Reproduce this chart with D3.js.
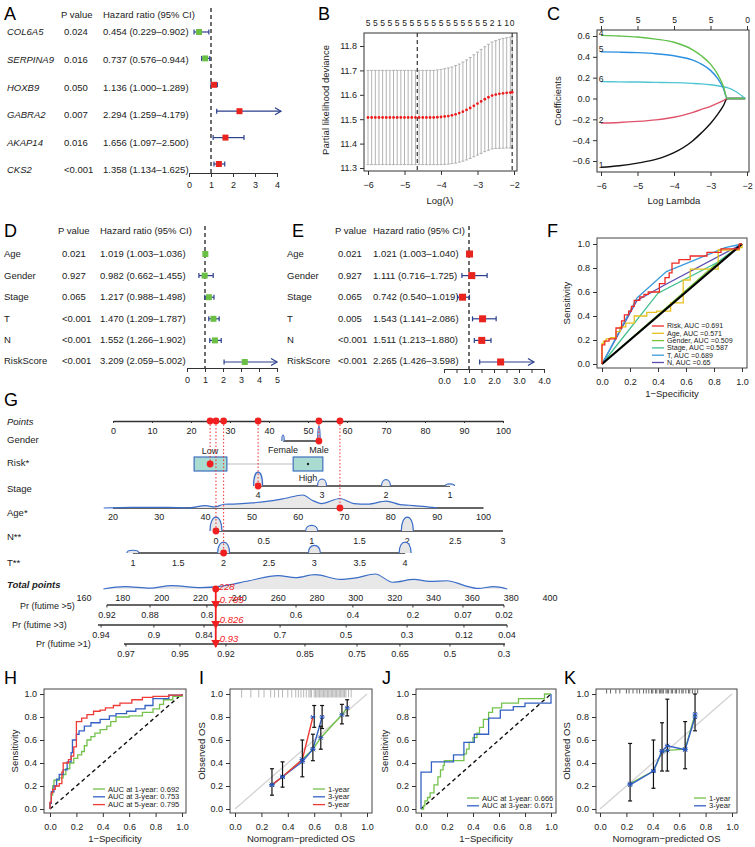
<!DOCTYPE html>
<html>
<head>
<meta charset="utf-8">
<script src="https://cdn.jsdelivr.net/npm/d3@7"></script>
<style>
  body { margin: 0; background: #fff; }
  text { font-family: "Liberation Sans", Arial, sans-serif; }
</style>
</head>
<body>
<svg id="fig" width="755" height="847"></svg>
<script>
// ---------- data ----------
// A: univariate cox of genes
var aGenes = ["COL6A5", "SERPINA9", "HOXB9", "GABRA2", "AKAP14", "CKS2"];
var aP = ["0.024", "0.016", "0.050", "0.007", "0.016", "<0.001"];
var aHR = [0.454, 0.737, 1.136, 2.294, 1.656, 1.358];
var aLo = [0.229, 0.576, 1.000, 1.259, 1.097, 1.134];
var aHi = [0.902, 0.944, 1.289, 4.179, 2.500, 1.625];

// D / E: univariate and multivariate cox of clinical vars
var clinVars = ["Age", "Gender", "Stage", "T", "N", "RiskScore"];
var dP = ["0.021", "0.927", "0.065", "<0.001", "<0.001", "<0.001"];
var dHR = [1.019, 0.982, 1.217, 1.470, 1.552, 3.209];
var dLo = [1.003, 0.662, 0.988, 1.209, 1.266, 2.059];
var dHi = [1.036, 1.455, 1.498, 1.787, 1.902, 5.002];
var eP = ["0.021", "0.927", "0.065", "0.005", "<0.001", "<0.001"];
var eHR = [1.021, 1.111, 0.742, 1.543, 1.511, 2.265];
var eLo = [1.003, 0.716, 0.540, 1.141, 1.213, 1.426];
var eHi = [1.040, 1.725, 1.019, 2.086, 1.880, 3.598];

// B: cross validation
var bLambda = [-6.0, -5.9, -5.8, -5.7, -5.6, -5.5, -5.4, -5.3, -5.2, -5.1, -5.0, -4.9, -4.8, -4.7, -4.6, -4.5, -4.4, -4.3,
  -4.2, -4.1, -4.0, -3.9, -3.8, -3.7, -3.6, -3.5, -3.4, -3.3, -3.2, -3.1, -3.0, -2.9, -2.8, -2.7, -2.6, -2.5, -2.4, -2.3, -2.2, -2.1, -2.05];
var bCvm = [11.507, 11.507, 11.507, 11.507, 11.507, 11.507, 11.507, 11.507, 11.507, 11.507, 11.507, 11.507, 11.507, 11.507, 11.507, 11.507, 11.507, 11.507,
  11.507, 11.508, 11.509, 11.511, 11.513, 11.516, 11.52, 11.525, 11.531, 11.538, 11.546, 11.555, 11.564, 11.573, 11.582, 11.59, 11.597, 11.601, 11.604, 11.606, 11.608, 11.609, 11.61];
var bCvsd = [0.193, 0.193, 0.193, 0.193, 0.193, 0.193, 0.193, 0.193, 0.193, 0.193, 0.193, 0.193, 0.193, 0.193, 0.193, 0.193, 0.193, 0.193,
  0.193, 0.194, 0.195, 0.196, 0.197, 0.198, 0.2, 0.201, 0.203, 0.205, 0.207, 0.209, 0.211, 0.213, 0.215, 0.217, 0.219, 0.221, 0.223, 0.225, 0.226, 0.227, 0.228];
var bNzero = [5, 5, 5, 5, 5, 5, 5, 5, 5, 5, 5, 5, 5, 5, 5, 5, 5, 5, 5, 5, 5, 5, 5, 5, 5, 5, 5, 5, 5, 5, 5, 5, 5, 5, 2, 1, 1, 1, 1, 1, 0];
var bMinLambda = -4.65, b1seLambda = -2.05;

// C: coefficient paths
var cLambda = [-6, -5.5, -5, -4.5, -4, -3.5, -3.25, -3, -2.8, -2.65, -2.54, -2.3, -2.05];
var cPaths = [
  {id: "1", color: "#111111", v: [-0.66, -0.645, -0.62, -0.585, -0.52, -0.41, -0.33, -0.24, -0.15, -0.07, 0, 0, 0]},
  {id: "2", color: "#df536b", v: [-0.235, -0.23, -0.22, -0.205, -0.18, -0.135, -0.105, -0.075, -0.045, -0.02, 0, 0, 0]},
  {id: "6", color: "#4fc6d2", v: [0.162, 0.16, 0.158, 0.155, 0.152, 0.145, 0.14, 0.132, 0.122, 0.112, 0.104, 0.065, 0]},
  {id: "5", color: "#2a8fe0", v: [0.448, 0.445, 0.44, 0.43, 0.41, 0.37, 0.33, 0.27, 0.19, 0.1, 0, 0, 0]},
  {id: "4", color: "#61c04a", v: [0.606, 0.6, 0.59, 0.57, 0.54, 0.47, 0.41, 0.33, 0.23, 0.12, 0, 0, 0]}
];
var cTopLabels = ["5", "5", "5", "5", "0"];

// F: ROC of clinical variables
var fRisk = [[0,0],[0,0.16],[0.02,0.19],[0.05,0.21],[0.1,0.3],[0.14,0.36],[0.16,0.41],[0.19,0.44],[0.21,0.48],[0.23,0.53],[0.27,0.56],[0.3,0.58],[0.33,0.6],[0.41,0.67],[0.45,0.72],[0.48,0.76],[0.5,0.84],[0.55,0.87],[0.63,0.9],[0.75,0.93],[0.85,0.96],[0.98,1],[1,1]];
var fAge = [[0,0],[0,0.17],[0.01,0.19],[0.03,0.21],[0.06,0.22],[0.1,0.27],[0.13,0.31],[0.17,0.34],[0.23,0.4],[0.32,0.43],[0.39,0.44],[0.49,0.51],[0.58,0.7],[0.63,0.79],[0.83,0.95],[0.98,0.97],[1,1]];
var fGender = [[0,0],[0.83,0.85],[1,1]];
var fStage = [[0,0],[0.4,0.59],[0.83,0.85],[1,1]];
var fT = [[0,0],[0.25,0.55],[0.46,0.77],[0.88,0.97],[1,1]];
var fN = [[0,0],[0.25,0.53],[0.45,0.66],[1,1]];
var fLegend = ["Risk, AUC =0.691", "Age, AUC =0.571", "Gender, AUC =0.509", "Stage, AUC =0.587", "T, AUC =0.689", "N, AUC =0.65"];

// G: nomogram
var pointsTicks = [0, 10, 20, 30, 40, 50, 60, 70, 80, 90, 100];
var genderLevels = ["Female", "Male"];
var genderPts = [43.6, 52.8];
var genderFreq = [0.4, 1];
var riskLevels = ["Low", "High"];
var riskBoxLo = [20.8, 46.2], riskBoxHi = [29.2, 53.8], riskMid = [24.9, 50];
var stageTicks = [4, 3, 2, 1];
var stageFreq = [1, 0.5, 0.45, 0.15];
var ageTicks = [20, 30, 40, 50, 60, 70, 80, 90, 100];
var ageDensAge = [18, 24, 32, 36, 40, 42, 44, 46, 50, 54, 57, 61, 63, 65, 69, 72, 75, 79, 82, 84, 87, 90];
var ageDensVal = [0, 0.05, 0.05, 0, 0.18, 0.08, 0.29, 0.3, 0.39, 0.55, 0.73, 1.0, 0.6, 0.34, 0.73, 0.34, 0.3, 0.53, 0.26, 0.21, 0.13, 0];
var nTicks = [0, 0.5, 1, 1.5, 2, 2.5, 3];
var nLevels = [0, 1, 2], nFreq = [1, 0.4, 1];
var tTicks = [1, 1.5, 2, 2.5, 3, 3.5, 4];
var tLevels = [1, 2, 3, 4], tFreq = [0.25, 1, 0.7, 1];
var totalTicks = [160, 180, 200, 220, 240, 260, 280, 300, 320, 340, 360, 380, 400];
var totDensX = [170, 181, 194, 205, 220, 231, 245, 260, 269, 279, 292, 301, 310, 319, 330, 338, 347, 356, 363, 371, 378];
var totDensVal = [0, 0.16, 0.06, 0.23, 0.09, 0.19, 0.55, 0.89, 0.76, 0.96, 0.64, 0.76, 1.0, 0.45, 0.64, 0.51, 0.55, 0.23, 0.04, 0.16, 0];
var pr5Labels = ["0.92", "0.88", "0.8", "0.6", "0.4", "0.2", "0.07", "0.02"];
var pr5At = [171.8, 194, 223.3, 269.2, 298.5, 329.4, 355.2, 376.3];
var pr3Labels = ["0.94", "0.9", "0.84", "0.7", "0.5", "0.3", "0.12", "0.04"];
var pr3At = [168.8, 196, 221.8, 261, 295, 326.4, 355.7, 377.9];
var pr1Labels = ["0.97", "0.95", "0.92", "0.85", "0.75", "0.65", "0.5", "0.3"];
var pr1At = [181.6, 209.4, 233.1, 273.8, 300.6, 322.7, 348.5, 376.3];
var prNames = ["Pr (futime >5)", "Pr (futime >3)", "Pr (futime >1)"];
var prRange = [[171.8, 376.3], [167.2, 377.9], [180.6, 376.8]];
var prPatient = ["0.785", "0.826", "0.93"];
var patient = {gender: "Male", risk: "Low", stage: 4, age: 69, n: 0, t: 2};

// H / J: time-dependent ROC
var hGreen = [[0,0],[0,0.05],[0.01,0.12],[0.02,0.2],[0.03,0.25],[0.07,0.27],[0.1,0.3],[0.12,0.35],[0.15,0.4],[0.18,0.44],[0.21,0.47],[0.24,0.5],[0.26,0.55],[0.28,0.6],[0.31,0.63],[0.34,0.66],[0.38,0.69],[0.43,0.72],[0.46,0.76],[0.5,0.8],[0.6,0.81],[0.7,0.84],[0.78,0.87],[0.83,0.91],[0.86,0.95],[0.93,0.98],[1,1]];
var hBlue = [[0,0],[0,0.05],[0.01,0.15],[0.03,0.2],[0.05,0.26],[0.07,0.3],[0.1,0.34],[0.13,0.41],[0.16,0.49],[0.17,0.6],[0.2,0.65],[0.22,0.68],[0.26,0.72],[0.31,0.75],[0.38,0.78],[0.45,0.81],[0.5,0.83],[0.58,0.85],[0.65,0.87],[0.72,0.9],[0.78,0.96],[0.9,0.99],[1,1]];
var hRed = [[0,0],[0,0.06],[0.01,0.14],[0.02,0.17],[0.04,0.2],[0.07,0.22],[0.09,0.32],[0.1,0.4],[0.14,0.43],[0.16,0.46],[0.18,0.54],[0.2,0.76],[0.24,0.79],[0.28,0.82],[0.33,0.85],[0.38,0.86],[0.42,0.88],[0.48,0.9],[0.53,0.92],[0.62,0.95],[0.7,0.97],[0.78,0.98],[0.9,0.99],[1,1]];
var hLegend = ["AUC at 1-year: 0.692", "AUC at 3-year: 0.753", "AUC at 5-year: 0.795"];
var jGreen = [[0,0],[0.02,0.03],[0.03,0.07],[0.05,0.1],[0.07,0.14],[0.1,0.21],[0.13,0.28],[0.15,0.34],[0.17,0.38],[0.18,0.42],[0.33,0.48],[0.35,0.52],[0.37,0.58],[0.4,0.62],[0.43,0.66],[0.45,0.71],[0.48,0.78],[0.52,0.84],[0.55,0.88],[0.62,0.92],[0.75,0.96],[0.95,1],[1,1]];
var jBlue = [[0,0],[0,0.32],[0.08,0.41],[0.25,0.47],[0.33,0.58],[0.41,0.65],[0.52,0.79],[0.61,0.86],[0.71,0.89],[0.8,0.92],[1,1]];
var jLegend = ["AUC at 1-year: 0.666", "AUC at 3-year: 0.671"];

// I / K: calibration
var iGreen = [[0.28,0.21],[0.36,0.28],[0.51,0.43],[0.59,0.52],[0.65,0.62],[0.81,0.82],[0.85,0.88]];
var iBlue = [[0.28,0.21],[0.36,0.28],[0.51,0.41],[0.59,0.52],[0.66,0.8]];
var iRed = [[0.28,0.21],[0.36,0.28],[0.51,0.43],[0.59,0.8]];
var iErr = [[0.28,0.12,0.35],[0.36,0.19,0.41],[0.51,0.28,0.6],[0.59,0.42,0.65],[0.6,0.71,0.9],[0.66,0.7,0.9],[0.65,0.52,0.72],[0.81,0.74,0.91],[0.85,0.81,0.95]];
var iRug = [0.05, 0.12, 0.18, 0.22, 0.27, 0.3, 0.33, 0.36, 0.4, 0.43, 0.46, 0.48, 0.5, 0.52, 0.54, 0.56, 0.57, 0.58, 0.6, 0.61, 0.62, 0.63, 0.64, 0.65, 0.66, 0.67, 0.68, 0.69, 0.7, 0.71, 0.72, 0.73, 0.74, 0.75, 0.76, 0.77, 0.78, 0.79, 0.8, 0.81, 0.82, 0.83, 0.84, 0.86, 0.88];
var kGreen = [[0.228,0.22],[0.405,0.33],[0.47,0.5],[0.51,0.51],[0.645,0.52],[0.72,0.825]];
var kBlue = [[0.228,0.21],[0.405,0.33],[0.47,0.505],[0.51,0.55],[0.645,0.515],[0.72,0.8]];
var kErr = [[0.228,0.07,0.57],[0.405,0.18,0.6],[0.47,0.33,0.75],[0.51,0.33,0.955],[0.645,0.35,0.76],[0.72,0.68,1.0]];
var kRug = [0.05, 0.08, 0.12, 0.15, 0.2, 0.22, 0.25, 0.28, 0.3, 0.33, 0.35, 0.37, 0.39, 0.4, 0.42, 0.43, 0.45, 0.46, 0.47, 0.48, 0.5, 0.51, 0.52, 0.54, 0.55, 0.57, 0.58, 0.6, 0.62, 0.63, 0.65, 0.67, 0.68, 0.7, 0.72, 0.74];
var yearLabels = ["1-year", "3-year", "5-year"];

// ---------- helpers ----------
var FONT = "Liberation Sans, Arial, sans-serif";
var GREEN = "#74c24c", BLUE = "#3560c4", RED = "#ef3b36", NAVY = "#2b3f8c";
var svg = d3.select("#fig");
svg.append("rect").attr("width", 755).attr("height", 847).attr("fill", "#fff");

function label(g, x, y, s, size, anchor, st) {
  st = st || {};
  return g.append("text").attr("x", x).attr("y", y).attr("dy", "0.35em")
    .attr("font-size", size || 9).attr("text-anchor", anchor || "start")
    .attr("font-style", st.italic ? "italic" : null)
    .attr("font-weight", st.bold ? "bold" : null)
    .attr("fill", st.fill || "#222").text(s);
}
function styleAxis(sel, size) {
  sel.attr("font-family", FONT).attr("font-size", size || 9);
  sel.selectAll("text").attr("fill", "#222");
  sel.selectAll("line").attr("stroke", "#333");
  sel.select(".domain").attr("stroke", "#333");
}
function letter(x, y, s) {
  label(svg, x, y, s, 18, "start", {fill: "#000"});
}

// ---------- forest plots ----------
function forest(o) {
  var g = svg.append("g");
  var x = d3.scaleLinear().domain(o.domain).range(o.range);
  var f3 = d3.format(".3f");
  label(g, o.pHeadX, o.headY, "P value", 9.5);
  label(g, o.hrX, o.headY, "Hazard ratio (95% CI)", 9.5);
  g.append("line").attr("x1", x(1)).attr("x2", x(1)).attr("y1", o.dashTop).attr("y2", o.axisY)
    .attr("stroke", "#222").attr("stroke-width", 1.3).attr("stroke-dasharray", "4,3");
  o.names.forEach(function (nm, i) {
    var ty = o.y0 + i * o.step, my = o.y0 + i * o.mstep;
    label(g, o.nameX, ty, nm, 9.5, "start", {italic: o.italic});
    label(g, o.pX, ty, o.p[i], 9.5);
    label(g, o.hrX, ty, f3(o.hr[i]) + " (" + f3(o.lo[i]) + "–" + f3(o.hi[i]) + ")", 9.5);
    var x0 = x(o.lo[i]), x1 = x(o.hi[i]);
    var arrow = o.hi[i] > o.clip;
    g.append("line").attr("x1", x0).attr("x2", x1).attr("y1", my).attr("y2", my)
      .attr("stroke", NAVY).attr("stroke-width", 1.2);
    g.append("line").attr("x1", x0).attr("x2", x0).attr("y1", my - 2.5).attr("y2", my + 2.5)
      .attr("stroke", NAVY).attr("stroke-width", 1.2);
    if (arrow) {
      g.append("path").attr("d", "M" + (x1 - 6) + "," + (my - 3.5) + "L" + x1 + "," + my + "L" + (x1 - 6) + "," + (my + 3.5))
        .attr("fill", "none").attr("stroke", NAVY).attr("stroke-width", 1.2);
    } else {
      g.append("line").attr("x1", x1).attr("x2", x1).attr("y1", my - 2.5).attr("y2", my + 2.5)
        .attr("stroke", NAVY).attr("stroke-width", 1.2);
    }
    var s = o.box;
    g.append("rect").attr("x", x(o.hr[i]) - s / 2).attr("y", my - s / 2).attr("width", s).attr("height", s)
      .attr("fill", o.color(o.hr[i]));
  });
  var ax = g.append("g").attr("transform", "translate(0," + o.axisY + ")")
    .call(d3.axisBottom(x).tickValues(o.ticks).tickSize(4).tickSizeOuter(0).tickFormat(o.fmt));
  styleAxis(ax, 9);
  ax.selectAll("text").attr("dy", "0.9em");
}

letter(4, 14, "A");
forest({names: aGenes, p: aP, hr: aHR, lo: aLo, hi: aHi, italic: true,
  nameX: 7, pX: 64, pHeadX: 61, hrX: 103, headY: 15, y0: 32, step: 27.6, mstep: 26.4,
  domain: [0, 4], range: [189, 277], clip: 3.4, dashTop: 8, axisY: 173, box: 6,
  ticks: [0, 1, 2, 3, 4], fmt: d3.format("d"),
  color: function (v) { return v < 1 ? "#6cbf45" : "#e8241f"; }});

letter(4, 231, "D");
forest({names: clinVars, p: dP, hr: dHR, lo: dLo, hi: dHi, italic: false,
  nameX: 4, pX: 62, pHeadX: 58, hrX: 100, headY: 231, y0: 254, step: 21.4, mstep: 21.6,
  domain: [0, 5], range: [187, 277], clip: 4.25, dashTop: 226, axisY: 368, box: 6,
  ticks: [0, 1, 2, 3, 4, 5], fmt: d3.format("d"),
  color: function () { return "#6cbf45"; }});

letter(292, 231, "E");
forest({names: clinVars, p: eP, hr: eHR, lo: eLo, hi: eHi, italic: false,
  nameX: 287, pX: 338, pHeadX: 335, hrX: 373, headY: 231, y0: 254, step: 21.4, mstep: 21.6,
  domain: [0, 4], range: [444, 544], clip: 3.4, dashTop: 226, axisY: 369, box: 7,
  ticks: [0, 0.5, 1, 1.5, 2, 2.5, 3, 3.5, 4],
  fmt: function (d) { return d % 1 === 0 ? d3.format(".1f")(d) : ""; },
  color: function () { return "#e8241f"; }});

// ---------- B: cv deviance ----------
(function () {
  var g = svg.append("g");
  var x = d3.scaleLinear().domain([-6, -2]).range([368, 514]);
  var y = d3.scaleLinear().domain([11.3, 11.8]).range([168, 46]);
  letter(318, 14, "B");
  bLambda.forEach(function (l, i) {
    var lo = y(bCvm[i] - bCvsd[i]), hi = y(bCvm[i] + bCvsd[i]), cx = x(l);
    g.append("line").attr("x1", cx).attr("x2", cx).attr("y1", lo).attr("y2", hi).attr("stroke", "#aaa").attr("stroke-width", 0.9);
    g.append("line").attr("x1", cx - 1.5).attr("x2", cx + 1.5).attr("y1", lo).attr("y2", lo).attr("stroke", "#aaa").attr("stroke-width", 0.9);
    g.append("line").attr("x1", cx - 1.5).attr("x2", cx + 1.5).attr("y1", hi).attr("y2", hi).attr("stroke", "#aaa").attr("stroke-width", 0.9);
  });
  [bMinLambda, b1seLambda].forEach(function (l) {
    g.append("line").attr("x1", x(l)).attr("x2", x(l)).attr("y1", 33).attr("y2", 171)
      .attr("stroke", "#333").attr("stroke-width", 1.2).attr("stroke-dasharray", "4,3");
  });
  g.selectAll("circle.cvm").data(bLambda).enter().append("circle")
    .attr("cx", function (d) { return x(d); }).attr("cy", function (d, i) { return y(bCvm[i]); })
    .attr("r", 1.4).attr("fill", "#ee1c1c");
  g.append("rect").attr("x", 364).attr("y", 33).attr("width", 153).attr("height", 138)
    .attr("fill", "none").attr("stroke", "#333");
  var ay = g.append("g").attr("transform", "translate(364,0)")
    .call(d3.axisLeft(y).tickValues([11.3, 11.4, 11.5, 11.6, 11.7, 11.8]).tickFormat(d3.format(".1f")).tickSize(4).tickSizeOuter(0));
  styleAxis(ay, 9); ay.select(".domain").remove();
  var ax = g.append("g").attr("transform", "translate(0,171)")
    .call(d3.axisBottom(x).tickValues([-6, -5, -4, -3, -2]).tickFormat(d3.format("d")).tickSize(4).tickSizeOuter(0));
  styleAxis(ax, 9); ax.select(".domain").remove(); ax.selectAll("text").attr("dy", "1.1em");
  var last = -99;
  bLambda.forEach(function (l, i) {
    if (x(l) - last >= 5.3) { label(g, x(l), 23, String(bNzero[i]), 8.5, "middle"); last = x(l); }
  });
  label(g, 326, 100, "Partial likelihood deviance", 9.5, "middle").attr("transform", "rotate(-90,326,100)");
  label(g, 440, 201, "Log(λ)", 9.5, "middle");
})();

// ---------- C: coefficient paths ----------
(function () {
  var g = svg.append("g");
  var x = d3.scaleLinear().domain([-6, -2]).range([601, 747]);
  var y = d3.scaleLinear().domain([-0.6, 0.6]).range([161, 36]);
  letter(547, 14, "C");
  var line = d3.line().x(function (d, i) { return x(cLambda[i]); }).y(function (d) { return y(d); }).curve(d3.curveMonotoneX);
  cPaths.forEach(function (p) {
    g.append("path").attr("d", line(p.v)).attr("fill", "none").attr("stroke", p.color).attr("stroke-width", 1.4);
    label(g, x(-6), y(p.v[0]) - 2.5, p.id, 8.5, "middle");
  });
  g.append("rect").attr("x", 597).attr("y", 30).attr("width", 152).attr("height", 142)
    .attr("fill", "none").attr("stroke", "#333");
  var ay = g.append("g").attr("transform", "translate(597,0)")
    .call(d3.axisLeft(y).tickValues([-0.6, -0.4, -0.2, 0, 0.2, 0.4, 0.6]).tickFormat(d3.format(".1f")).tickSize(4).tickSizeOuter(0));
  styleAxis(ay, 9); ay.select(".domain").remove();
  var ax = g.append("g").attr("transform", "translate(0,172)")
    .call(d3.axisBottom(x).tickValues([-6, -5, -4, -3, -2]).tickFormat(d3.format("d")).tickSize(4).tickSizeOuter(0));
  styleAxis(ax, 9); ax.select(".domain").remove(); ax.selectAll("text").attr("dy", "1.1em");
  var at = g.append("g").attr("transform", "translate(0,30)")
    .call(d3.axisTop(x).tickValues([-6, -5, -4, -3, -2]).tickFormat(function (d, i) { return cTopLabels[i]; }).tickSize(4).tickSizeOuter(0));
  styleAxis(at, 8.5); at.select(".domain").remove();
  label(g, 558, 101, "Coefficients", 9.5, "middle").attr("transform", "rotate(-90,558,101)");
  label(g, 674, 201, "Log Lambda", 9.5, "middle");
})();

// ---------- frame for square plots ----------
function frame(o) {
  var g = svg.append("g");
  var x = d3.scaleLinear().domain([0, 1]).range(o.xr);
  var y = d3.scaleLinear().domain([0, 1]).range(o.yr);
  g.append("rect").attr("x", o.box[0]).attr("y", o.box[1]).attr("width", o.box[2] - o.box[0]).attr("height", o.box[3] - o.box[1])
    .attr("fill", "none").attr("stroke", "#444");
  var t = [0, 0.2, 0.4, 0.6, 0.8, 1];
  var ay = g.append("g").attr("transform", "translate(" + o.box[0] + ",0)")
    .call(d3.axisLeft(y).tickValues(t).tickFormat(d3.format(".1f")).tickSize(4).tickSizeOuter(0));
  styleAxis(ay, 9); ay.select(".domain").remove();
  var ax = g.append("g").attr("transform", "translate(0," + o.box[3] + ")")
    .call(d3.axisBottom(x).tickValues(t).tickFormat(d3.format(".1f")).tickSize(4).tickSizeOuter(0));
  styleAxis(ax, 9); ax.select(".domain").remove(); ax.selectAll("text").attr("dy", "1.1em");
  var cx = (o.box[0] + o.box[2]) / 2, cy = (o.box[1] + o.box[3]) / 2;
  label(g, cx, o.box[3] + 26, o.xlab, 9.5, "middle");
  label(g, o.ylabX, cy, o.ylab, 9.5, "middle").attr("transform", "rotate(-90," + o.ylabX + "," + cy + ")");
  return {g: g, x: x, y: y};
}
function addLine(p, data, color, curve, w) {
  var ln = d3.line().x(function (d) { return p.x(d[0]); }).y(function (d) { return p.y(d[1]); }).curve(curve || d3.curveLinear);
  p.g.append("path").attr("d", ln(data)).attr("fill", "none").attr("stroke", color).attr("stroke-width", w || 1.3);
}
function legend(g, x, y0, step, labels, colors, size) {
  labels.forEach(function (s, i) {
    var yy = y0 + i * step;
    g.append("line").attr("x1", x).attr("x2", x + 12).attr("y1", yy).attr("y2", yy).attr("stroke", colors[i]).attr("stroke-width", 1.3);
    label(g, x + 15, yy, s, size || 7.5);
  });
}

// ---------- F ----------
letter(547, 231, "F");
(function () {
  var p = frame({xr: [602, 742], yr: [364, 244], box: [597, 238, 747, 368], xlab: "1−Specificity", ylab: "Sensitivity", ylabX: 567});
  var cols = ["#ee2a24", "#e6c11e", "#77c43a", "#3fbf8c", "#3a9bdc", "#5a4db0"];
  addLine(p, fGender, cols[2]);
  addLine(p, fStage, cols[3]);
  addLine(p, fN, cols[5]);
  addLine(p, fT, cols[4]);
  addLine(p, fAge, cols[1], d3.curveStepAfter);
  p.g.append("line").attr("x1", p.x(0)).attr("y1", p.y(0)).attr("x2", p.x(1)).attr("y2", p.y(1)).attr("stroke", "#000").attr("stroke-width", 2.2);
  addLine(p, fRisk, cols[0], d3.curveStepAfter);
  legend(p.g, 652, 326, 7.3, fLegend, cols, 7.1);
})();

// ---------- G: nomogram ----------
letter(4, 400, "G");
(function () {
  var g = svg.append("g");
  var px = d3.scaleLinear().domain([0, 100]).range([113, 503]);
  var totalX = d3.scaleLinear().domain([160, 400]).range([84, 550]);
  var ageToPts = d3.scaleLinear().domain([20, 100]).range([0, 95]);
  var stageToPts = d3.scaleLinear().domain([4, 1]).range([37.2, 86.4]);
  var nToPts = d3.scaleLinear().domain([0, 3]).range([26.4, 100]);
  var tToPts = d3.scaleLinear().domain([1, 4]).range([5.1, 74.9]);
  var Y = {points: 421, gender: 441, risk: 464, stage: 486, age: 508, n: 531, t: 553, total: 589, pr: [605, 625, 644]};
  var HUMP = "#3a6cc8";

  function hump(cx, base, h, w) {
    g.append("path").attr("d", "M" + (cx - w) + "," + base + "C" + (cx - w) + "," + (base - h * 1.33) + " " + (cx + w) + "," + (base - h * 1.33) + " " + (cx + w) + "," + base)
      .attr("fill", "#e6e6e6").attr("stroke", HUMP).attr("stroke-width", 1.2);
  }
  function hline(x1, x2, yy) {
    g.append("line").attr("x1", x1).attr("x2", x2).attr("y1", yy).attr("y2", yy).attr("stroke", "#333").attr("stroke-width", 1.3);
  }
  function density(xs, vals, toX, base, hmax) {
    var hy = d3.scaleLinear().domain([0, 1]).range([0, hmax]);
    var area = d3.area().x(function (d, i) { return toX(xs[i]); }).y0(base).y1(function (d) { return base - hy(d); }).curve(d3.curveMonotoneX);
    var ln = d3.line().x(function (d, i) { return toX(xs[i]); }).y(function (d) { return base - hy(d); }).curve(d3.curveMonotoneX);
    g.append("path").attr("d", area(vals)).attr("fill", "#e8e8e8");
    g.append("path").attr("d", ln(vals)).attr("fill", "none").attr("stroke", HUMP).attr("stroke-width", 1.2);
  }

  // row labels
  label(g, 7, 422, "Points", 9.5, "start", {italic: true});
  label(g, 7, 440, "Gender", 9.5);
  label(g, 7, 463, "Risk*", 9.5);
  label(g, 7, 489, "Stage", 9.5);
  label(g, 7, 513, "Age*", 9.5);
  label(g, 7, 537, "N**", 9.5);
  label(g, 7, 563, "T**", 9.5);
  label(g, 7, 585, "Total points", 9.5, "start", {italic: true, bold: true});
  label(g, 20, 606, prNames[0], 9);
  label(g, 12, 625, prNames[1], 9);
  label(g, 36, 644, prNames[2], 9);

  // points axis
  var ap = g.append("g").attr("transform", "translate(0," + Y.points + ")")
    .call(d3.axisBottom(px).tickValues(pointsTicks).tickSize(2).tickSizeOuter(0));
  styleAxis(ap, 9); ap.select(".domain").attr("stroke-width", 1.3); ap.selectAll("text").attr("dy", "0.9em");

  // gender
  hline(px(genderPts[0]), px(genderPts[1]), Y.gender);
  genderLevels.forEach(function (lv, i) {
    hump(px(genderPts[i]), Y.gender, 15 * genderFreq[i], 1.2);
    label(g, px(genderPts[i]), 450, lv, 9, "middle");
  });

  // risk boxes
  g.append("line").attr("x1", px(riskBoxHi[0])).attr("x2", px(riskBoxLo[1])).attr("y1", Y.risk).attr("y2", Y.risk)
    .attr("stroke", "#bbb").attr("stroke-width", 1.2);
  riskLevels.forEach(function (lv, i) {
    g.append("rect").attr("x", px(riskBoxLo[i])).attr("y", Y.risk - 7).attr("width", px(riskBoxHi[i]) - px(riskBoxLo[i])).attr("height", 14)
      .attr("fill", "#a9dbd0").attr("stroke", "#3f6fc0").attr("stroke-width", 1.2);
    g.append("circle").attr("cx", px(riskMid[i])).attr("cy", Y.risk).attr("r", 1.2).attr("fill", "#222");
  });
  label(g, px(riskMid[0]), 451, riskLevels[0], 9, "middle");
  label(g, px(riskMid[1]), 478, riskLevels[1], 9, "middle");

  // stage
  hline(px(stageToPts(4)), px(stageToPts(1)), Y.stage);
  stageTicks.forEach(function (s, i) {
    hump(px(stageToPts(s)), Y.stage, 14 * stageFreq[i], 4.5);
    label(g, px(stageToPts(s)), 495, String(s), 9, "middle");
  });

  // age
  hline(px(ageToPts(20)), px(ageToPts(100)), Y.age);
  density(ageDensAge, ageDensVal, function (a) { return px(ageToPts(a)); }, Y.age, 13);
  ageTicks.forEach(function (a) { label(g, px(ageToPts(a)), 517, String(a), 9, "middle"); });

  // N
  hline(px(nToPts(0)), px(nToPts(3)), Y.n);
  nLevels.forEach(function (v, i) { hump(px(nToPts(v)), Y.n, 14 * nFreq[i], 6); });
  nTicks.forEach(function (v) { label(g, px(nToPts(v)), 541, String(v), 9, "middle"); });

  // T
  hline(px(tToPts(1)), px(tToPts(4)), Y.t);
  tLevels.forEach(function (v, i) { hump(px(tToPts(v)), Y.t, 11 * tFreq[i], 6); });
  tTicks.forEach(function (v) { label(g, px(tToPts(v)), 563, String(v), 9, "middle"); });

  // total points
  density(totDensX, totDensVal, totalX, Y.total, 15);
  totalTicks.forEach(function (v) { label(g, totalX(v), 598, String(v), 9, "middle"); });

  // probability axes
  [[pr5Labels, pr5At], [pr3Labels, pr3At], [pr1Labels, pr1At]].forEach(function (pr, k) {
    var yy = Y.pr[k];
    hline(totalX(prRange[k][0]), totalX(prRange[k][1]), yy);
    pr[1].forEach(function (tp, i) {
      g.append("line").attr("x1", totalX(tp)).attr("x2", totalX(tp)).attr("y1", yy).attr("y2", yy + 2.5).attr("stroke", "#333");
      label(g, totalX(tp), yy + 9.5, pr[0][i], 9, "middle");
    });
  });

  // patient
  var pts = [
    {p: genderPts[genderLevels.indexOf(patient.gender)], y: Y.gender},
    {p: riskMid[riskLevels.indexOf(patient.risk)], y: Y.risk},
    {p: stageToPts(patient.stage), y: Y.stage},
    {p: ageToPts(patient.age), y: Y.age},
    {p: nToPts(patient.n), y: Y.n},
    {p: tToPts(patient.t), y: Y.t}
  ];
  var total = d3.sum(pts, function (d) { return d.p; });
  pts.forEach(function (d) {
    g.append("line").attr("x1", px(d.p)).attr("x2", px(d.p)).attr("y1", Y.points).attr("y2", d.y)
      .attr("stroke", "#f03030").attr("stroke-width", 1).attr("stroke-dasharray", "1.5,2");
  });
  pts.forEach(function (d) {
    g.append("circle").attr("cx", px(d.p)).attr("cy", d.y).attr("r", 3.4).attr("fill", "#f02020");
    g.append("circle").attr("cx", px(d.p)).attr("cy", Y.points).attr("r", 3.4).attr("fill", "#f02020");
  });
  var tx = totalX(total);
  g.append("line").attr("x1", tx).attr("x2", tx).attr("y1", Y.total).attr("y2", Y.pr[2] + 3)
    .attr("stroke", "#f02020").attr("stroke-width", 1.8);
  g.append("circle").attr("cx", tx).attr("cy", Y.total).attr("r", 3.4).attr("fill", "#f02020");
  label(g, tx + 3, Y.total - 2, String(Math.round(total)), 9.5, "start", {italic: true, fill: "#f02020"});
  Y.pr.forEach(function (yy, k) {
    g.append("path").attr("d", "M" + (tx - 4.5) + "," + (yy - 4) + "L" + (tx + 4.5) + "," + (yy - 4) + "L" + tx + "," + (yy + 4) + "Z")
      .attr("fill", "#f02020");
    label(g, tx + 4, yy - 5, prPatient[k], 9.5, "start", {italic: true, fill: "#f02020"});
  });
})();

// ---------- H ----------
letter(4, 678, "H");
(function () {
  var p = frame({xr: [50, 182], yr: [809, 694], box: [44, 689, 186, 813], xlab: "1−Specificity", ylab: "Sensitivity", ylabX: 15});
  p.g.append("line").attr("x1", p.x(0)).attr("y1", p.y(0)).attr("x2", p.x(1)).attr("y2", p.y(1))
    .attr("stroke", "#111").attr("stroke-width", 1.4).attr("stroke-dasharray", "4,3");
  addLine(p, hGreen, GREEN, d3.curveStepAfter);
  addLine(p, hBlue, BLUE, d3.curveStepAfter);
  addLine(p, hRed, RED, d3.curveStepAfter);
  legend(p.g, 93, 789, 7.8, hLegend, [GREEN, BLUE, RED], 7.6);
})();

// ---------- I ----------
letter(199, 678, "I");
function calib(p, lines, colors, err, rug, rugCol, rugLen) {
  p.g.append("line").attr("x1", p.x(0)).attr("y1", p.y(0)).attr("x2", p.x(1)).attr("y2", p.y(1))
    .attr("stroke", "#d3d3d3").attr("stroke-width", 1.3);
  rug.forEach(function (r) {
    p.g.append("line").attr("x1", p.x(r)).attr("x2", p.x(r)).attr("y1", 689.5).attr("y2", 689.5 + rugLen)
      .attr("stroke", rugCol).attr("stroke-width", 0.7);
  });
  lines.forEach(function (l, i) { addLine(p, l, colors[i], d3.curveLinear, 1.4); });
  err.forEach(function (e) {
    var cx = p.x(e[0]), y0 = p.y(e[1]), y1 = p.y(e[2]);
    p.g.append("line").attr("x1", cx).attr("x2", cx).attr("y1", y0).attr("y2", y1).attr("stroke", "#111").attr("stroke-width", 1.2);
    [y0, y1].forEach(function (yy) {
      p.g.append("line").attr("x1", cx - 2).attr("x2", cx + 2).attr("y1", yy).attr("y2", yy).attr("stroke", "#111").attr("stroke-width", 1.2);
    });
  });
  lines.forEach(function (l) {
    l.forEach(function (d) {
      var cx = p.x(d[0]), cy = p.y(d[1]);
      p.g.append("path").attr("d", "M" + (cx - 2) + "," + (cy - 2) + "L" + (cx + 2) + "," + (cy + 2) + "M" + (cx - 2) + "," + (cy + 2) + "L" + (cx + 2) + "," + (cy - 2) + "M" + (cx - 2.5) + "," + cy + "L" + (cx + 2.5) + "," + cy)
        .attr("stroke", "#2a55b8").attr("stroke-width", 1);
    });
  });
}
(function () {
  var p = frame({xr: [235, 367], yr: [809, 694], box: [230, 689, 372, 813], xlab: "Nomogram−predicted OS", ylab: "Observed OS", ylabX: 202});
  calib(p, [iGreen, iBlue, iRed], [GREEN, BLUE, RED], iErr, iRug, "#999", 8);
  legend(p.g, 313, 789, 7.8, yearLabels, [GREEN, BLUE, RED], 7.6);
})();

// ---------- J ----------
letter(382, 678, "J");
(function () {
  var p = frame({xr: [421, 551], yr: [809, 694], box: [416, 689, 556, 813], xlab: "1−Specificity", ylab: "Sensitivity", ylabX: 385});
  p.g.append("line").attr("x1", p.x(0)).attr("y1", p.y(0)).attr("x2", p.x(1)).attr("y2", p.y(1))
    .attr("stroke", "#111").attr("stroke-width", 1.4).attr("stroke-dasharray", "4,3");
  addLine(p, jGreen, GREEN, d3.curveStepAfter);
  addLine(p, jBlue, BLUE, d3.curveStepAfter);
  legend(p.g, 467, 798, 7.8, jLegend, [GREEN, BLUE], 7.6);
})();

// ---------- K ----------
letter(564, 678, "K");
(function () {
  var p = frame({xr: [600, 732], yr: [809, 694], box: [596, 689, 737, 813], xlab: "Nomogram−predicted OS", ylab: "Observed OS", ylabX: 567});
  calib(p, [kGreen, kBlue], [GREEN, BLUE], kErr, kRug, "#222", 4);
  legend(p.g, 694, 798, 7.8, yearLabels.slice(0, 2), [GREEN, BLUE], 7.6);
})();
</script>
</body>
</html>
